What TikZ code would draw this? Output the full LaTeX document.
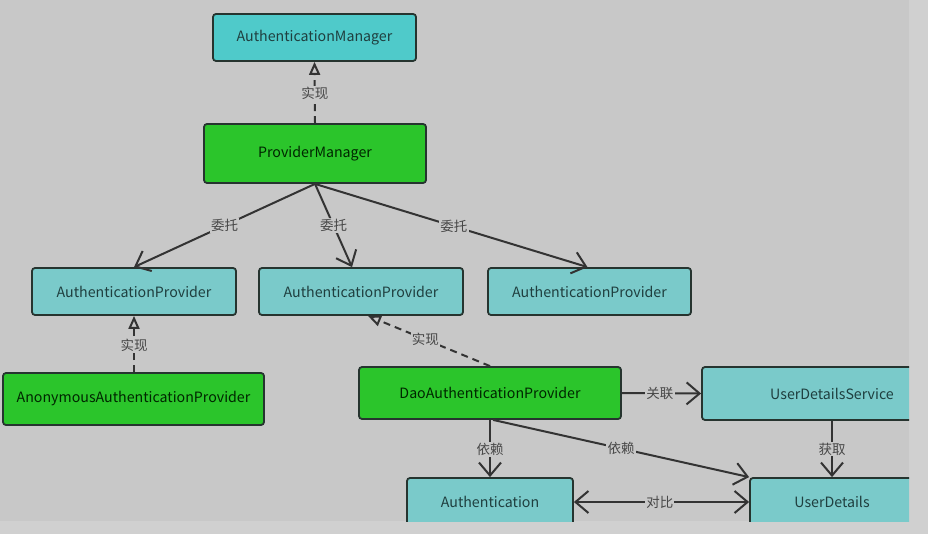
\documentclass[tikz,border=0pt]{standalone}
\usepackage{fontspec}
\setmainfont{Noto Sans CJK SC}
\usetikzlibrary{arrows.meta}
\definecolor{bg}{HTML}{C8C8C8}
\definecolor{outer}{HTML}{D0D0D0}
\definecolor{teal}{HTML}{7ACACA}
\definecolor{tealB}{HTML}{4FCACA}
\definecolor{grn}{HTML}{2BC52B}
\definecolor{bord}{HTML}{26342F}
\definecolor{ink}{HTML}{333333}
\definecolor{ltext}{HTML}{474747}
\definecolor{btext}{HTML}{1F3F3F}
\begin{document}
\begin{tikzpicture}[x=1pt,y=-1pt,
  box/.style={draw=bord,line width=1.8pt,rounded corners=3pt,inner sep=0pt,
    font=\fontsize{14.2}{15}\selectfont,text=btext},
  tbox/.style={box,fill=teal},
  gbox/.style={box,fill=grn,text=black!85!green},
  conn/.style={draw=ink,line width=2pt},
  dep/.style={conn,-{Straight Barb[length=13pt,width=22pt]}},
  impl/.style={conn,dash pattern=on 7pt off 5pt,-{Triangle[open,length=13pt,width=11pt,fill=bg]}},
  lbl/.style={fill=bg,inner sep=1.2pt,text=ltext,font=\fontsize{13.5}{14}\selectfont}]
\useasboundingbox (0,0) rectangle (928,534);
\fill[outer] (0,0) rectangle (928,534);
\fill[bg] (0,0) rectangle (909,521);
\begin{scope}
\clip (0,0) rectangle (909,521);
% nodes
\node[tbox,fill=tealB,minimum width=203pt,minimum height=47pt] (am) at (314.5,37.5) {AuthenticationManager};
\node[gbox,minimum width=222pt,minimum height=59pt] (pm) at (315,153.5) {ProviderManager};
\node[tbox,minimum width=204pt,minimum height=47pt] (ap1) at (134,291.5) {AuthenticationProvider};
\node[tbox,minimum width=204pt,minimum height=47pt] (ap2) at (361,291.5) {AuthenticationProvider};
\node[tbox,minimum width=203pt,minimum height=47pt] (ap3) at (589.5,291.5) {AuthenticationProvider};
\node[gbox,minimum width=261pt,minimum height=52pt] (anon) at (133.5,399) {AnonymousAuthenticationProvider};
\node[gbox,minimum width=262pt,minimum height=52pt] (dao) at (490,393) {DaoAuthenticationProvider};
\node[tbox,minimum width=260pt,minimum height=53pt] (uds) at (832,393.5) {UserDetailsService};
\node[tbox,minimum width=166pt,minimum height=48pt] (auth) at (490,502) {Authentication};
\node[tbox,minimum width=164pt,minimum height=48pt] (ud) at (832,502) {UserDetails};
% connectors
\draw[impl] (pm.north) -- node[lbl,pos=0.49]{实现} (am.south);
\draw[dep] (pm.south) -- node[lbl,pos=0.5]{委托} (ap1.north);
\draw[dep] (pm.south) -- node[lbl,pos=0.5]{委托} ([xshift=-9pt]ap2.north);
\draw[dep] (pm.south) -- node[lbl,pos=0.51]{委托} ([xshift=-2pt]ap3.north);
\draw[impl] ([xshift=0.5pt]anon.north) -- node[lbl,pos=0.48]{实现} (ap1.south);
\draw[impl] (dao.north) -- node[lbl,pos=0.53]{实现} ([xshift=7pt]ap2.south);
\draw[dep] (dao.east) -- node[lbl,pos=0.48]{关联} (uds.west);
\draw[dep] (dao.south) -- node[lbl,pos=0.52]{依赖} (auth.north);
\draw[dep] ([xshift=3pt]dao.south) -- node[lbl,pos=0.5]{依赖} (ud.north west);
\draw[dep] (uds.south) -- node[lbl,pos=0.5]{获取} (ud.north);
\draw[conn,{Straight Barb[length=13pt,width=22pt]}-{Straight Barb[length=13pt,width=22pt]}] (auth.east) -- node[lbl,pos=0.49]{对比} (ud.west);
\end{scope}
\end{tikzpicture}
\end{document}
